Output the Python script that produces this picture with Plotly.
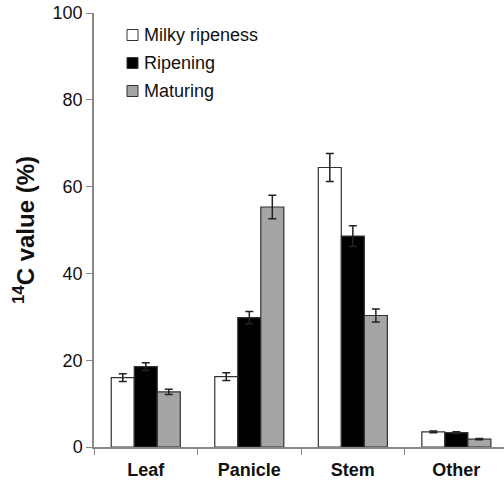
import plotly.graph_objects as go

categories = ["Leaf", "Panicle", "Stem", "Other"]
series_names = ["Milky ripeness", "Ripening", "Maturing"]
milky = [16.0, 16.2, 64.4, 3.5]
milky_err = [0.9, 0.9, 3.2, 0.2]
ripening = [18.5, 29.8, 48.6, 3.3]
ripening_err = [0.9, 1.4, 2.4, 0.2]
maturing = [12.7, 55.3, 30.3, 1.8]
maturing_err = [0.6, 2.7, 1.5, 0.15]
y_ticks = [0, 20, 40, 60, 80, 100]

fills = ["#ffffff", "#000000", "#a5a5a5"]
values = [milky, ripening, maturing]
errors = [milky_err, ripening_err, maturing_err]

ML, MR, MT, MB = 94, 0, 13, 36
W, H = 504, 483
PW, PH = W - ML - MR, H - MT - MB

fig = go.Figure()
for i, name in enumerate(series_names):
    fig.add_trace(go.Bar(
        x=categories, y=values[i], name=name,
        marker=dict(color=fills[i], line=dict(color="#333333", width=1.2)),
        error_y=dict(type="data", array=errors[i], color="#222222", thickness=1.5, width=4),
        showlegend=False,
    ))

# custom legend (paper coordinates)
leg_box_x0, leg_box_size, leg_text_x = 127, 11, 142
leg_centers = [35, 63, 91]
for i, name in enumerate(series_names):
    cy = leg_centers[i]
    fig.add_shape(type="rect", xref="paper", yref="paper",
                  x0=(leg_box_x0 - ML) / PW, x1=(leg_box_x0 + leg_box_size - ML) / PW,
                  y0=(H - MB - (cy + leg_box_size / 2)) / PH, y1=(H - MB - (cy - leg_box_size / 2)) / PH,
                  fillcolor=fills[i], line=dict(color="#333333", width=1))
    fig.add_annotation(xref="paper", yref="paper", x=(leg_text_x - ML) / PW, y=(H - MB - cy) / PH,
                       text=name, showarrow=False, xanchor="left", yanchor="middle",
                       font=dict(size=18, color="#111111"))

fig.update_layout(
    width=W, height=H,
    margin=dict(l=ML, r=MR, t=MT, b=MB, autoexpand=False),
    paper_bgcolor="white", plot_bgcolor="white",
    barmode="group", bargap=0.333, bargroupgap=0,
    font=dict(family="Arial, Liberation Sans, sans-serif", size=18, color="#111111"),
    xaxis=dict(
        range=[-0.5, 3.46], showline=True, linecolor="#888888", linewidth=1.5,
        ticks="outside", tickson="boundaries", ticklen=6, tickcolor="#888888",
        tickfont=dict(size=18, weight="bold", color="#111111"), ticklabelstandoff=6,
        showgrid=False, automargin=False,
    ),
    yaxis=dict(
        range=[0, 100], tickvals=y_ticks, showline=True, linecolor="#888888", linewidth=1.5,
        ticks="outside", ticklen=6, tickcolor="#888888", showgrid=False, zeroline=False,
        tickfont=dict(size=18, color="#111111"), automargin=False,
        title=dict(text="<sup>14</sup>C value (%)", font=dict(size=24, weight="bold", color="#111111"), standoff=11),
    ),
)

fig.write_html("out.html", config={"displayModeBar": False},
               post_script="document.body.style.margin='0';document.body.style.overflow='hidden';")
